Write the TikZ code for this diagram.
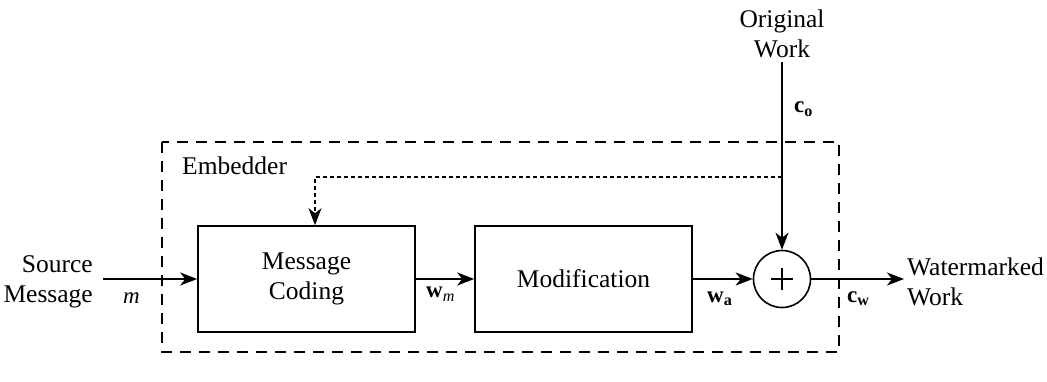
\documentclass[tikz,border=0pt]{standalone}
\usepackage{fontspec}
\setmainfont{Liberation Serif}
\usetikzlibrary{arrows.meta}
\begin{document}
\begin{tikzpicture}[x=1pt,y=-1pt,
  every node/.style={font=\fontsize{25.5}{30}\selectfont, inner sep=0pt},
  lbl/.style={font=\fontsize{23}{27}\selectfont},
  blockbox/.style={draw, line width=1.6pt},
  sig/.style={line width=1.6pt, -{Stealth[length=17pt,width=13pt,inset=5pt]}},
  framebox/.style={draw, line width=1.4pt, dash pattern=on 11pt off 8pt},
  fb/.style={line width=1.4pt, dash pattern=on 4pt off 3pt, -{Stealth[length=17pt,width=13pt,inset=5pt]}}]
\useasboundingbox (0,0) rectangle (1047,382);

% embedder frame
\draw[framebox] (162,142) rectangle (839,352);
\node[anchor=base west] (emb) at (182,175) {Embedder};

% blocks
\node[blockbox, minimum width=217pt, minimum height=106pt] (coding) at (306.5,279) {};
\node[align=center] at (coding.center) {Message\\Coding};
\node[blockbox, minimum width=217pt, minimum height=106pt] (modif) at (583.5,279) {Modification};
\node[draw, circle, line width=1.6pt, minimum size=57pt] (sum) at (782,279) {};
\draw[line width=1.2pt] (771,279) -- (793,279) (782,268) -- (782,290);

% inputs and outputs
\node[align=right, anchor=east] (src) at (93,281.5) {Source\\Message};
\node[align=center] (orig) at (782,33.5) {Original\\Work};
\node[align=left, anchor=west] (wm) at (907,281.5) {Watermarked\\Work};
\coordinate (srcend) at (103,279);
\coordinate (origend) at (782,62);
\coordinate (outend) at (904,279);
\coordinate (tap) at (782,177);
\coordinate (bend) at (315,177);

% connectors
\draw[sig] (srcend) -- (coding.west |- srcend);
\draw[sig] (coding.east |- srcend) -- (modif.west |- srcend);
\draw[sig] (modif.east |- srcend) -- (sum.west);
\draw[sig] (origend) -- (sum.north);
\draw[sig] (sum.east) -- (outend);
\draw[fb] (tap) -- (bend) -- (bend |- coding.north);

% signal labels
\node[lbl, anchor=base west] at (123,303) {\textit{m}};
\node[lbl, anchor=base west] at (426,298) {\textbf{w}\textsubscript{\textit{m}}};
\node[lbl, anchor=base west] at (707,302) {\textbf{w}\textsubscript{\textbf{a}}};
\node[lbl, anchor=base west] at (794,113) {\textbf{c}\textsubscript{\textbf{o}}};
\node[lbl, anchor=base west] at (847,302) {\textbf{c}\textsubscript{\textbf{w}}};
\end{tikzpicture}
\end{document}
